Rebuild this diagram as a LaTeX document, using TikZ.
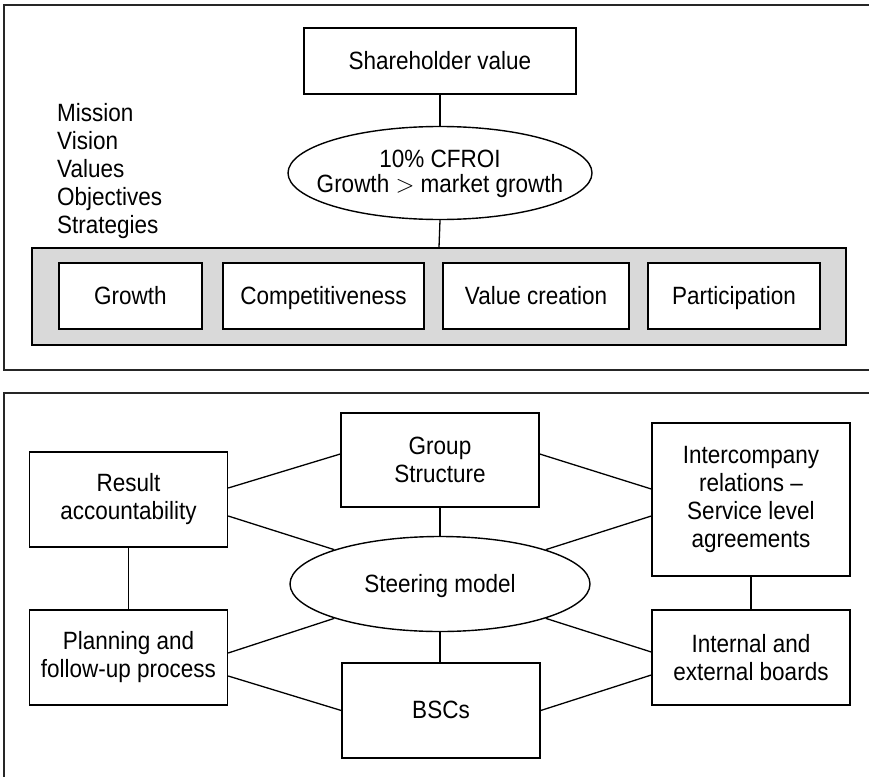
\documentclass[tikz,border=0pt]{standalone}
\usepackage{fontspec}
\setmainfont{Liberation Sans}[FakeStretch=0.9]
\usetikzlibrary{shapes.geometric}
\definecolor{panel}{HTML}{D9D9D9}
\begin{document}
\begin{tikzpicture}[x=1pt,y=-1pt,
  every node/.style={font=\fontsize{25}{28}\selectfont, align=center, inner sep=0pt},
  box/.style={draw, line width=1.4pt, fill=white, minimum width=198, minimum height=95},
  oneline/.style={text height=20pt, text depth=4pt},
  oval/.style={draw, ellipse, line width=1.4pt, fill=white},
  link/.style={line width=1.3pt},
  frame/.style={line width=1.6pt, draw=black!85}]
\useasboundingbox (0,0) rectangle (869,776);

% ---- upper panel: values and objectives ----
\draw[frame] (875,5) -- (4,5) -- (4,370) -- (875,370);

\node[box, oneline, minimum width=272, minimum height=66] (sh) at (440,61) {Shareholder value};
\node[oval, minimum width=304, minimum height=93] (cf) at (440,173) {};
\node[font=\fontsize{25}{25}\selectfont] (cftext) at (440,174) {10\% CFROI\\Growth $>$ market growth};

\node[anchor=west, align=left] (mvv) at (57,171)
  {Mission\\Vision\\Values\\Objectives\\Strategies};

\node[box, fill=panel, minimum width=814, minimum height=97] (pillars) at (439,296.5) {};
\node[box, oneline, minimum width=143, minimum height=66] (gr) at (130.5,296) {Growth};
\node[box, oneline, minimum width=201, minimum height=66] (co) at (323.5,296) {Competitiveness};
\node[box, oneline, minimum width=186, minimum height=66] (vc) at (536,296) {Value creation};
\node[box, oneline, minimum width=172, minimum height=66] (pa) at (734,296) {Participation};

\draw[link] (sh.south) -- (cf.north);
\draw[link] (cf.south) -- (pillars.north);

% ---- lower panel: steering model ----
\draw[frame] (875,393) -- (4,393) -- (4,780);

\node[oval, oneline, minimum width=300, minimum height=95] (st) at (440,584) {Steering model};
\node[box, minimum height=94] (grp) at (440,460) {Group\\Structure};
\node[box] (res) at (128.5,499.5) {Result\\accountability};
\node[box, minimum height=153] (ic) at (751,499.5) {Intercompany\\relations --\\Service level\\agreements};
\node[box] (pl) at (128.5,657.5) {Planning and\\follow-up process};
\node[box] (ie) at (751,657.5) {Internal and\\external boards};
\node[box, oneline] (bsc) at (441,710.5) {BSCs};

\draw[link] (grp.south) -- (st.north);
\draw[link] (st.south) -- (st.south |- bsc.north);
\draw[link] (res.south) -- (pl.north);
\draw[link] (ic.south) -- (ie.north);

\draw[link] ([yshift=11.5pt]res.east) -- ([yshift=6pt]grp.west);
\draw[link] ([yshift=6pt]grp.east) -- ([yshift=10.5pt]ic.west);
\draw[link] ([yshift=-16.5pt]res.east) -- (st.162);
\draw[link] ([yshift=-16.5pt]ic.west) -- (st.18);
\draw[link] ([yshift=4.5pt]pl.east) -- (st.198);
\draw[link] ([yshift=5.5pt]ie.west) -- (st.-18);
\draw[link] ([yshift=-18.5pt]pl.east) -- (bsc.west);
\draw[link] (bsc.east) -- ([yshift=-17.5pt]ie.west);
\end{tikzpicture}
\end{document}
